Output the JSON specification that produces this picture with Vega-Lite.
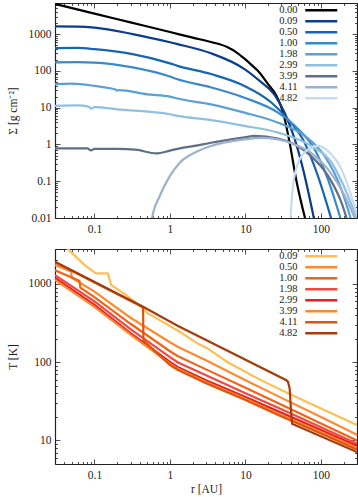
{
  "$schema": "https://vega.github.io/schema/vega-lite/v6.json",
  "background": "white",
  "padding": {"left": 7, "top": 1, "right": 1, "bottom": 2},
  "spacing": 31,
  "bounds": "flush",
  "config": {
    "font": "Liberation Serif",
    "view": {"stroke": null},
    "axis": {
      "domainColor": "#222", "domainWidth": 1.2, "tickColor": "#222", "tickWidth": 0.8,
      "labelFont": "Liberation Serif", "labelFontSize": 11.5, "labelColor": "#222",
      "titleFont": "Liberation Serif", "titleFontSize": 11.5, "titleFontWeight": "normal", "titleColor": "#222",
      "grid": false, "labelFlush": false, "labelOverlap": false
    },
    "legend": {
      "orient": "top-right", "offset": 2, "symbolType": "M-8,0H8M14,0", "symbolSize": 16, "symbolStrokeWidth": 2.5,
      "labelFont": "Liberation Serif", "labelFontSize": 10.5, "labelColor": "#222", "labelAlign": "right", "labelOffset": -29,
      "rowPadding": -1, "padding": 0, "title": null
    }
  },
  "datasets": {
    "sig": [
      {"t":"0.00","r":0.03,"v":6600},{"t":"0.00","r":0.1,"v":3600},{"t":"0.00","r":0.3,"v":2080},{"t":"0.00","r":1,"v":1140},{"t":"0.00","r":2,"v":800},{"t":"0.00","r":3.5,"v":610},{"t":"0.00","r":5.8,"v":440},{"t":"0.00","r":7.5,"v":325},{"t":"0.00","r":9.7,"v":215},{"t":"0.00","r":12,"v":146},{"t":"0.00","r":14.6,"v":100},{"t":"0.00","r":20,"v":43},{"t":"0.00","r":25.7,"v":21},{"t":"0.00","r":31.6,"v":7.3},{"t":"0.00","r":38.5,"v":1.1},{"t":"0.00","r":47,"v":0.11},{"t":"0.00","r":62,"v":0.0093},
      {"t":"0.09","r":0.03,"v":1620},{"t":"0.09","r":0.06,"v":1600},{"t":"0.09","r":0.1,"v":1500},{"t":"0.09","r":0.32,"v":1000},{"t":"0.09","r":1,"v":600},{"t":"0.09","r":1.26,"v":535},{"t":"0.09","r":3.5,"v":300},{"t":"0.09","r":9.7,"v":112},{"t":"0.09","r":16,"v":50},{"t":"0.09","r":24,"v":23},{"t":"0.09","r":33,"v":7.3},{"t":"0.09","r":45,"v":1.37},{"t":"0.09","r":58,"v":0.21},{"t":"0.09","r":81,"v":0.0093},
      {"t":"0.50","r":0.03,"v":415},{"t":"0.50","r":0.06,"v":420},{"t":"0.50","r":0.1,"v":390},{"t":"0.50","r":0.32,"v":285},{"t":"0.50","r":1,"v":160},{"t":"0.50","r":1.26,"v":137},{"t":"0.50","r":3.5,"v":82},{"t":"0.50","r":9.7,"v":39},{"t":"0.50","r":22,"v":13.8},{"t":"0.50","r":36.6,"v":4.8},{"t":"0.50","r":61,"v":1.1},{"t":"0.50","r":91,"v":0.14},{"t":"0.50","r":138,"v":0.009},
      {"t":"1.00","r":0.03,"v":170},{"t":"1.00","r":0.06,"v":172},{"t":"1.00","r":0.1,"v":168},{"t":"1.00","r":0.32,"v":124},{"t":"1.00","r":1,"v":70},{"t":"1.00","r":1.26,"v":59},{"t":"1.00","r":3.5,"v":35.5},{"t":"1.00","r":9.7,"v":18.6},{"t":"1.00","r":27,"v":7.3},{"t":"1.00","r":50,"v":2.6},{"t":"1.00","r":83,"v":0.72},{"t":"1.00","r":124,"v":0.11},{"t":"1.00","r":182,"v":0.0095},
      {"t":"1.98","r":0.03,"v":43.5},{"t":"1.98","r":0.05,"v":45},{"t":"1.98","r":0.1,"v":39},{"t":"1.98","r":0.19,"v":31},{"t":"1.98","r":0.2,"v":29},{"t":"1.98","r":0.21,"v":30},{"t":"1.98","r":0.5,"v":23},{"t":"1.98","r":1,"v":20},{"t":"1.98","r":1.26,"v":17.7},{"t":"1.98","r":3.5,"v":12.3},{"t":"1.98","r":9.7,"v":7.3},{"t":"1.98","r":27,"v":3.9},{"t":"1.98","r":61,"v":1.7},{"t":"1.98","r":112,"v":0.48},{"t":"1.98","r":187,"v":0.059},{"t":"1.98","r":248,"v":0.0095},
      {"t":"2.99","r":0.03,"v":11.2},{"t":"2.99","r":0.06,"v":11.5},{"t":"2.99","r":0.085,"v":10.5},{"t":"2.99","r":0.09,"v":9.4},{"t":"2.99","r":0.1,"v":10.3},{"t":"2.99","r":0.2,"v":9},{"t":"2.99","r":1,"v":6.6},{"t":"2.99","r":1.26,"v":6.0},{"t":"2.99","r":3.5,"v":4.6},{"t":"2.99","r":9.7,"v":3.2},{"t":"2.99","r":27,"v":2.1},{"t":"2.99","r":74,"v":0.91},{"t":"2.99","r":138,"v":0.32},{"t":"2.99","r":228,"v":0.04},{"t":"2.99","r":296,"v":0.01},
      {"t":"3.99","r":0.03,"v":0.78},{"t":"3.99","r":0.08,"v":0.78},{"t":"3.99","r":0.09,"v":0.69},{"t":"3.99","r":0.1,"v":0.76},{"t":"3.99","r":0.2,"v":0.76},{"t":"3.99","r":0.35,"v":0.72},{"t":"3.99","r":0.66,"v":0.57},{"t":"3.99","r":1,"v":0.68},{"t":"3.99","r":1.35,"v":0.78},{"t":"3.99","r":2.1,"v":0.91},{"t":"3.99","r":3.5,"v":1.11},{"t":"3.99","r":9.7,"v":1.55},{"t":"3.99","r":13.2,"v":1.7},{"t":"3.99","r":27,"v":1.45},{"t":"3.99","r":45,"v":1.0},{"t":"3.99","r":74,"v":0.48},{"t":"3.99","r":124,"v":0.14},{"t":"3.99","r":187,"v":0.026},{"t":"3.99","r":218,"v":0.01},
      {"t":"4.11","r":0.55,"v":0.005},{"t":"4.11","r":0.58,"v":0.01},{"t":"4.11","r":0.73,"v":0.039},{"t":"4.11","r":1.0,"v":0.14},{"t":"4.11","r":1.35,"v":0.32},{"t":"4.11","r":2.1,"v":0.59},{"t":"4.11","r":3.5,"v":0.91},{"t":"4.11","r":9.7,"v":1.37},{"t":"4.11","r":16,"v":1.5},{"t":"4.11","r":27,"v":1.37},{"t":"4.11","r":45,"v":1.0},{"t":"4.11","r":74,"v":0.59},{"t":"4.11","r":124,"v":0.21},{"t":"4.11","r":208,"v":0.039},{"t":"4.11","r":280,"v":0.01},
      {"t":"4.82","r":39,"v":0.005},{"t":"4.82","r":39.6,"v":0.01},{"t":"4.82","r":42.6,"v":0.074},{"t":"4.82","r":50,"v":0.32},{"t":"4.82","r":67,"v":0.72},{"t":"4.82","r":91,"v":0.91},{"t":"4.82","r":124,"v":0.66},{"t":"4.82","r":187,"v":0.21},{"t":"4.82","r":253,"v":0.039},{"t":"4.82","r":300,"v":0.012}
    ],
    "temp": [
      {"t":"0.09","r":0.03,"v":4000},{"t":"0.09","r":0.044,"v":2830},{"t":"0.09","r":0.074,"v":1740},{"t":"0.09","r":0.105,"v":1370},{"t":"0.09","r":0.15,"v":1370},{"t":"0.09","r":0.166,"v":970},{"t":"0.09","r":0.263,"v":722},{"t":"0.09","r":0.44,"v":487},{"t":"0.09","r":0.51,"v":420},{"t":"0.09","r":0.73,"v":345},{"t":"0.09","r":1.35,"v":245},{"t":"0.09","r":2.33,"v":173},{"t":"0.09","r":3.2,"v":149},{"t":"0.09","r":5.8,"v":100},{"t":"0.09","r":16,"v":59},{"t":"0.09","r":36.6,"v":40},{"t":"0.09","r":100,"v":25.7},{"t":"0.09","r":300,"v":15.8},
      {"t":"0.50","r":0.03,"v":1750},{"t":"0.50","r":0.049,"v":1450},{"t":"0.50","r":0.05,"v":1200},{"t":"0.50","r":0.1,"v":800},{"t":"0.50","r":0.3,"v":370},{"t":"0.50","r":1,"v":180},{"t":"0.50","r":1.26,"v":158},{"t":"0.50","r":3,"v":106},{"t":"0.50","r":10,"v":59},{"t":"0.50","r":30,"v":35},{"t":"0.50","r":100,"v":20},{"t":"0.50","r":300,"v":11.8},
      {"t":"1.00","r":0.03,"v":1500},{"t":"1.00","r":0.063,"v":1100},{"t":"1.00","r":0.065,"v":900},{"t":"1.00","r":0.1,"v":680},{"t":"1.00","r":0.3,"v":310},{"t":"1.00","r":1,"v":138},{"t":"1.00","r":1.26,"v":120},{"t":"1.00","r":3,"v":81},{"t":"1.00","r":10,"v":47},{"t":"1.00","r":30,"v":28.5},{"t":"1.00","r":100,"v":16.5},{"t":"1.00","r":300,"v":10},
      {"t":"1.98","r":0.03,"v":1300},{"t":"1.98","r":0.1,"v":600},{"t":"1.98","r":0.3,"v":265},{"t":"1.98","r":1,"v":116},{"t":"1.98","r":1.26,"v":100},{"t":"1.98","r":3,"v":68},{"t":"1.98","r":10,"v":40},{"t":"1.98","r":30,"v":25},{"t":"1.98","r":100,"v":14.7},{"t":"1.98","r":300,"v":9.1},
      {"t":"2.99","r":0.03,"v":1200},{"t":"2.99","r":0.1,"v":540},{"t":"2.99","r":0.3,"v":235},{"t":"2.99","r":1,"v":101},{"t":"2.99","r":1.26,"v":87},{"t":"2.99","r":3,"v":59},{"t":"2.99","r":10,"v":36},{"t":"2.99","r":30,"v":22.6},{"t":"2.99","r":100,"v":13.6},{"t":"2.99","r":300,"v":8.5},
      {"t":"3.99","r":0.03,"v":1125},{"t":"3.99","r":0.1,"v":510},{"t":"3.99","r":0.3,"v":225},{"t":"3.99","r":1,"v":96},{"t":"3.99","r":1.26,"v":83},{"t":"3.99","r":3,"v":56},{"t":"3.99","r":10,"v":34},{"t":"3.99","r":30,"v":21},{"t":"3.99","r":100,"v":12.8},{"t":"3.99","r":300,"v":8.0},
      {"t":"4.11","r":0.03,"v":1900},{"t":"4.11","r":0.44,"v":505},{"t":"4.11","r":0.445,"v":190},{"t":"4.11","r":1,"v":92},{"t":"4.11","r":1.26,"v":80},{"t":"4.11","r":3,"v":54},{"t":"4.11","r":10,"v":33},{"t":"4.11","r":30,"v":20.3},{"t":"4.11","r":100,"v":12.3},{"t":"4.11","r":300,"v":7.6},
      {"t":"4.82","r":0.03,"v":1930},{"t":"4.82","r":0.44,"v":512},{"t":"4.82","r":1.26,"v":292},{"t":"4.82","r":34.8,"v":59},{"t":"4.82","r":36.6,"v":56},{"t":"4.82","r":38.5,"v":46},{"t":"4.82","r":40,"v":25},{"t":"4.82","r":41.4,"v":16.3},{"t":"4.82","r":300,"v":7.1}
    ]
  },
  "vconcat": [
    {
      "width": 302, "height": 215,
      "layer": [
        {
          "data": {"name": "sig"},
          "mark": {"type": "line", "clip": true, "strokeWidth": 2.2, "interpolate": "monotone"},
          "encoding": {
            "x": {"field": "r", "type": "quantitative",
              "scale": {"type": "log", "domain": [0.03, 300], "nice": false},
              "axis": {"orient": "bottom", "title": null, "format": "~g",
                "values": [0.03,0.04,0.05,0.06,0.07,0.08,0.09,0.1,0.2,0.3,0.4,0.5,0.6,0.7,0.8,0.9,1,2,3,4,5,6,7,8,9,10,20,30,40,50,60,70,80,90,100,200,300],
                "labelExpr": "indexof([0.1,1,10,100], datum.value) >= 0 ? datum.label : ''",
                "labelFontSize": {"condition": {"test": "indexof([0.1,1,10,100], datum.value) >= 0", "value": 11.5}, "value": 0},
                "tickSize": {"condition": {"test": "indexof([0.1,1,10,100], datum.value) >= 0", "value": -5}, "value": -2.5},
                "labelPadding": 10}},
            "y": {"field": "v", "type": "quantitative",
              "scale": {"type": "log", "domain": [0.01, 7000], "nice": false},
              "axis": {"orient": "left", "title": "Σ [g cm⁻²]", "titlePadding": 10, "format": "~g",
                "values": [0.01,0.02,0.03,0.04,0.05,0.06,0.07,0.08,0.09,0.1,0.2,0.3,0.4,0.5,0.6,0.7,0.8,0.9,1,2,3,4,5,6,7,8,9,10,20,30,40,50,60,70,80,90,100,200,300,400,500,600,700,800,900,1000,2000,3000,4000,5000,6000,7000],
                "labelExpr": "indexof([0.01,0.1,1,10,100,1000], datum.value) >= 0 ? datum.label : ''",
                "labelFontSize": {"condition": {"test": "indexof([0.01,0.1,1,10,100,1000], datum.value) >= 0", "value": 11.5}, "value": 0},
                "tickSize": {"condition": {"test": "indexof([0.01,0.1,1,10,100,1000], datum.value) >= 0", "value": -5}, "value": -2.5},
                "labelPadding": 9}},
            "color": {"field": "t", "type": "nominal",
              "scale": {"domain": ["0.00","0.09","0.50","1.00","1.98","2.99","3.99","4.11","4.82"],
                "range": ["#000000","#0b3d8c","#1565b0","#3a8ac8","#5aa0d4","#8fc0e0","#5e6f88","#9cb1cd","#c5dcf0"]}}
          }
        },
        {
          "data": {"name": "sig"},
          "mark": {"type": "point", "opacity": 0},
          "encoding": {
            "x": {"field": "r", "type": "quantitative",
              "scale": {"type": "log", "domain": [0.03, 300], "nice": false},
              "axis": {"orient": "top", "title": null, "labels": false,
                "values": [0.03,0.04,0.05,0.06,0.07,0.08,0.09,0.1,0.2,0.3,0.4,0.5,0.6,0.7,0.8,0.9,1,2,3,4,5,6,7,8,9,10,20,30,40,50,60,70,80,90,100,200,300],
                "tickSize": {"condition": {"test": "indexof([0.1,1,10,100], datum.value) >= 0", "value": -5}, "value": -2.5}}},
            "y": {"field": "v", "type": "quantitative",
              "scale": {"type": "log", "domain": [0.01, 7000], "nice": false},
              "axis": {"orient": "right", "title": null, "labels": false,
                "values": [0.01,0.02,0.03,0.04,0.05,0.06,0.07,0.08,0.09,0.1,0.2,0.3,0.4,0.5,0.6,0.7,0.8,0.9,1,2,3,4,5,6,7,8,9,10,20,30,40,50,60,70,80,90,100,200,300,400,500,600,700,800,900,1000,2000,3000,4000,5000,6000,7000],
                "tickSize": {"condition": {"test": "indexof([0.01,0.1,1,10,100,1000], datum.value) >= 0", "value": -5}, "value": -2.5}}}
          }
        }
      ],
      "resolve": {"axis": {"x": "independent", "y": "independent"}}
    },
    {
      "width": 302, "height": 215,
      "layer": [
        {
          "data": {"name": "temp"},
          "mark": {"type": "line", "clip": true, "strokeWidth": 2.2},
          "encoding": {
            "x": {"field": "r", "type": "quantitative",
              "scale": {"type": "log", "domain": [0.03, 300], "nice": false},
              "axis": {"orient": "bottom", "title": "r [AU]", "titlePadding": 3, "format": "~g",
                "values": [0.03,0.04,0.05,0.06,0.07,0.08,0.09,0.1,0.2,0.3,0.4,0.5,0.6,0.7,0.8,0.9,1,2,3,4,5,6,7,8,9,10,20,30,40,50,60,70,80,90,100,200,300],
                "labelExpr": "indexof([0.1,1,10,100], datum.value) >= 0 ? datum.label : ''",
                "labelFontSize": {"condition": {"test": "indexof([0.1,1,10,100], datum.value) >= 0", "value": 11.5}, "value": 0},
                "tickSize": {"condition": {"test": "indexof([0.1,1,10,100], datum.value) >= 0", "value": -5}, "value": -2.5},
                "labelPadding": 10}},
            "y": {"field": "v", "type": "quantitative",
              "scale": {"type": "log", "domain": [5, 2800], "nice": false},
              "axis": {"orient": "left", "title": "T [K]", "titlePadding": 10, "format": "~g",
                "values": [5,6,7,8,9,10,20,30,40,50,60,70,80,90,100,200,300,400,500,600,700,800,900,1000,2000],
                "labelExpr": "indexof([10,100,1000], datum.value) >= 0 ? datum.label : ''",
                "labelFontSize": {"condition": {"test": "indexof([10,100,1000], datum.value) >= 0", "value": 11.5}, "value": 0},
                "tickSize": {"condition": {"test": "indexof([10,100,1000], datum.value) >= 0", "value": -5}, "value": -2.5},
                "labelPadding": 9}},
            "color": {"field": "t", "type": "nominal",
              "scale": {"domain": ["0.09","0.50","1.00","1.98","2.99","3.99","4.11","4.82"],
                "range": ["#fdbf55","#fd8a30","#f26318","#f5463e","#ec1c1c","#fb8a2e","#e2540b","#a63c0d"]}}
          }
        },
        {
          "data": {"name": "temp"},
          "mark": {"type": "point", "opacity": 0},
          "encoding": {
            "x": {"field": "r", "type": "quantitative",
              "scale": {"type": "log", "domain": [0.03, 300], "nice": false},
              "axis": {"orient": "top", "title": null, "labels": false,
                "values": [0.03,0.04,0.05,0.06,0.07,0.08,0.09,0.1,0.2,0.3,0.4,0.5,0.6,0.7,0.8,0.9,1,2,3,4,5,6,7,8,9,10,20,30,40,50,60,70,80,90,100,200,300],
                "tickSize": {"condition": {"test": "indexof([0.1,1,10,100], datum.value) >= 0", "value": -5}, "value": -2.5}}},
            "y": {"field": "v", "type": "quantitative",
              "scale": {"type": "log", "domain": [5, 2800], "nice": false},
              "axis": {"orient": "right", "title": null, "labels": false,
                "values": [5,6,7,8,9,10,20,30,40,50,60,70,80,90,100,200,300,400,500,600,700,800,900,1000,2000],
                "tickSize": {"condition": {"test": "indexof([10,100,1000], datum.value) >= 0", "value": -5}, "value": -2.5}}}
          }
        }
      ],
      "resolve": {"axis": {"x": "independent", "y": "independent"}}
    }
  ],
  "resolve": {"scale": {"color": "independent", "x": "independent", "y": "independent"}, "legend": {"color": "independent"}}
}
